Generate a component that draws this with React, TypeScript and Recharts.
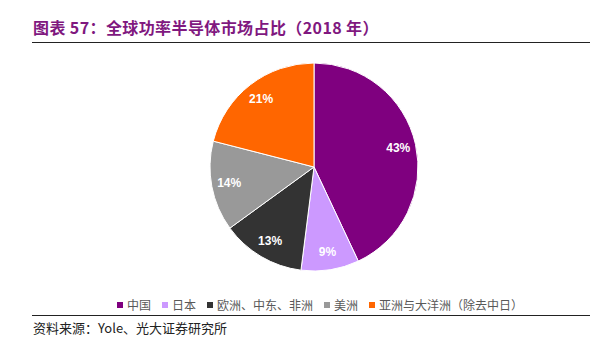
import { PieChart, Pie, Cell, Legend } from "recharts";

const regions = ["中国", "日本", "欧洲、中东、非洲", "美洲", "亚洲与大洋洲（除去中日）"];
const shares = [43, 9, 13, 14, 21];
const colors = ["#7f007f", "#cc99ff", "#333333", "#999999", "#ff6600"];

const data = regions.map((name, i) => ({ name, value: shares[i] }));

const RAD = Math.PI / 180;

const renderLabel = (props: any) => {
	const { cx, cy, midAngle, outerRadius, value } = props;
	const r = outerRadius * 0.83;
	const x = cx + r * Math.cos(-midAngle * RAD);
	const y = cy + r * Math.sin(-midAngle * RAD);
	return (
		<text
			x={x}
			y={y}
			fill="#ffffff"
			fontSize={12}
			fontWeight="bold"
			fontFamily="Liberation Sans, Arial, sans-serif"
			textAnchor="middle"
			dominantBaseline="central"
		>
			{value}%
		</text>
	);
};

const renderLegend = () => (
	<div
		style={{
			display: "flex",
			alignItems: "center",
			fontSize: 12,
			color: "#595959",
			fontFamily: "Noto Sans CJK SC, sans-serif",
			whiteSpace: "nowrap",
		}}
	>
		{data.map((d, i) => (
			<span key={d.name} style={{ display: "inline-flex", alignItems: "center", marginRight: 11 }}>
				<span
					style={{
						display: "inline-block",
						width: 6,
						height: 6,
						background: colors[i],
						marginRight: 4,
					}}
				/>
				{d.name}
			</span>
		))}
	</div>
);

const App = () => {
	return (
		<div
			style={{
				position: "absolute",
				left: 0,
				top: 0,
				width: 600,
				height: 338,
				background: "#ffffff",
				overflow: "hidden",
			}}
		>
			<div
				style={{
					position: "absolute",
					left: 33,
					top: 15,
					fontSize: 16,
					fontWeight: "bold",
					color: "#80187f",
					fontFamily: "Noto Sans CJK SC, sans-serif",
					whiteSpace: "nowrap",
					letterSpacing: 0.4,
				}}
			>
				图表 57：全球功率半导体市场占比（2018 年）
			</div>
			<div style={{ position: "absolute", left: 32, top: 42, width: 558, height: 1, background: "#222" }} />
			<div style={{ position: "absolute", left: 0, top: 0 }}>
				<PieChart width={600} height={338} margin={{ top: 0, right: 0, bottom: 0, left: 0 }}>
					<Pie
						data={data}
						dataKey="value"
						nameKey="name"
						cx={314}
						cy={167}
						outerRadius={104}
						startAngle={90}
						endAngle={-270}
						stroke="#ffffff"
						strokeWidth={1}
						label={renderLabel}
						labelLine={false}
						isAnimationActive={false}
					>
						{data.map((d, i) => (
							<Cell key={d.name} fill={colors[i]} />
						))}
					</Pie>
					<Legend
						content={renderLegend}
						wrapperStyle={{ position: "absolute", left: 117, top: 296, width: 490 }}
					/>
				</PieChart>
			</div>
			<div style={{ position: "absolute", left: 32, top: 315, width: 558, height: 1, background: "#222" }} />
			<div
				style={{
					position: "absolute",
					left: 33,
					top: 318,
					fontSize: 13,
					color: "#222",
					fontFamily: "Noto Sans CJK SC, sans-serif",
					whiteSpace: "nowrap",
				}}
			>
				资料来源：Yole、光大证券研究所
			</div>
		</div>
	);
};

export default App;
